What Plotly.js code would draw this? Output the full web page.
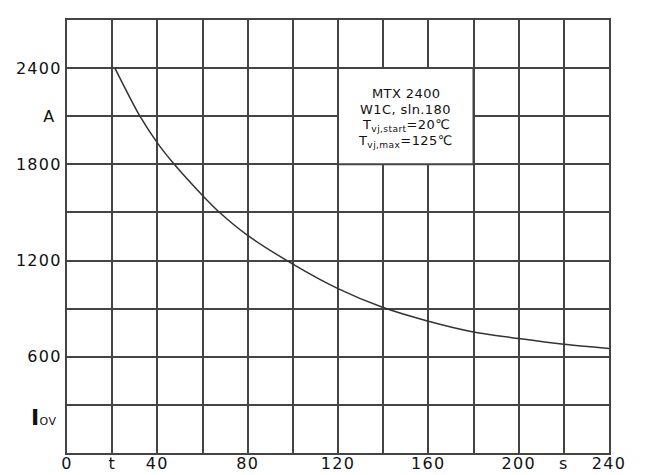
<!DOCTYPE html>
<html>
<head>
<meta charset="utf-8">
<script src="https://cdn.plot.ly/plotly-3.0.1.min.js"></script>
<style>
html,body{margin:0;padding:0;background:#fff;}
#chart{width:649px;height:475px;}
.xtick text,.ytick text{letter-spacing:1.3px;}
.annotation-text{letter-spacing:0.4px;}
</style>
</head>
<body>
<div id="chart"></div>
<script>
// Overload current curve (time in s vs current in A)
const timeS = [21.2, 32.3, 40, 47.5, 60, 67.6, 80, 100, 120, 140, 160, 180, 200, 220, 240];
const currentA = [2400, 2100, 1934, 1800, 1606, 1500, 1357, 1178, 1025, 907, 822, 755, 714, 678, 652];

const xTickVals = [0, 20, 40, 80, 120, 160, 200, 220, 240];
const xTickText = ["0", "t", "40", "80", "120", "160", "200", "s", "240"];
const yTickVals = [2400, 2100, 1800, 1200, 600];
const yTickText = ["2400", "A\u00A0", "1800", "1200", "600"];
const iovValue = 300;
const iovLabel = "<b>I</b><span style='font-size:11px'>OV</span>";

const infoLines = ["MTX 2400", "W1C, sln.180", "T<sub>vj,start</sub>=20℃", "T<sub>vj,max</sub>=125℃"];

const gridColor = "#444";
const gw = 2;
const tickFont = {family: "DejaVu Sans, sans-serif", size: 16, color: "#111"};

const trace = {
  x: timeS, y: currentA, type: "scatter", mode: "lines",
  line: {color: "#333", width: 1.5, shape: "spline", smoothing: 0.8},
  hoverinfo: "skip"
};
const gridTrace = {x: [null], y: [null], xaxis: "x2", yaxis: "y2", type: "scatter", mode: "lines", hoverinfo: "skip"};

const infoAnnotations = infoLines.map((t, i) => ({
  xref: "x", yref: "y", x: 150, y: 2100, yshift: (1.5 - i) * 16 - 1, showarrow: false,
  text: t, align: "center", xanchor: "center", yanchor: "middle",
  font: {family: "DejaVu Sans, sans-serif", size: 13, color: "#111"}
}));

const layout = {
  width: 649, height: 475,
  margin: {l: 67, r: 40, t: 20, b: 22},
  paper_bgcolor: "#fff", plot_bgcolor: "#fff",
  showlegend: false,
  font: tickFont,
  xaxis: {
    range: [0, 240], tickmode: "array", tickvals: xTickVals, ticktext: xTickText,
    showgrid: false, showline: true, linecolor: gridColor, linewidth: gw, mirror: true,
    zeroline: false, ticks: "", ticklabelstandoff: -5, tickfont: tickFont, fixedrange: true
  },
  yaxis: {
    range: [0, 2700], tickmode: "array", tickvals: yTickVals, ticktext: yTickText,
    showgrid: false, showline: true, linecolor: gridColor, linewidth: gw, mirror: true,
    zeroline: false, ticks: "", ticklabelstandoff: 0, tickfont: tickFont, fixedrange: true
  },
  xaxis2: {
    overlaying: "x", range: [0, 240], tick0: 0, dtick: 20, showticklabels: false,
    showgrid: true, gridcolor: gridColor, gridwidth: gw, zeroline: false, ticks: "", fixedrange: true
  },
  yaxis2: {
    overlaying: "y", range: [0, 2700], tick0: 0, dtick: 300, showticklabels: false,
    showgrid: true, gridcolor: gridColor, gridwidth: gw, zeroline: false, ticks: "", fixedrange: true
  },
  shapes: [{
    type: "rect", xref: "x", yref: "y", x0: 120, x1: 180, y0: 1800, y1: 2400,
    fillcolor: "#fff", line: {color: gridColor, width: gw}, layer: "above"
  }],
  annotations: infoAnnotations.concat([{
    xref: "paper", yref: "y", x: 0, y: iovValue, xanchor: "right", yanchor: "middle",
    xshift: -9, yshift: -13, showarrow: false, text: iovLabel,
    font: {family: "DejaVu Sans, sans-serif", size: 22, color: "#111"}
  }])
};

Plotly.newPlot("chart", [gridTrace, trace], layout, {displayModeBar: false, staticPlot: true});
</script>
</body>
</html>
